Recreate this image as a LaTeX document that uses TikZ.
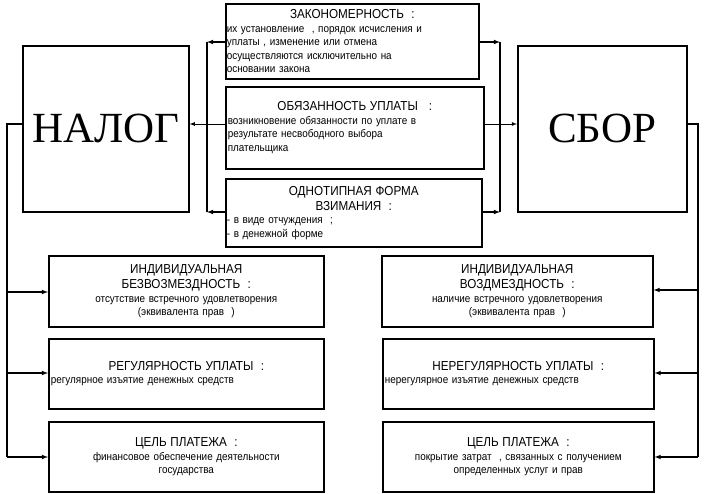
\documentclass[tikz,border=0pt]{standalone}
\usepackage{fontspec}
\setmainfont{Liberation Sans}
\newfontfamily\bigserif{Liberation Serif}
\newfontfamily\narrow[FakeStretch=0.9]{Liberation Sans}
\usetikzlibrary{arrows, positioning}

\newcommand{\hd}[1]{{\centering\fontsize{13}{15}\selectfont #1\par}}
\tikzset{
    box/.style={draw, line width=1.6pt, anchor=north west, inner sep=2pt, align=left,
        font=\narrow\fontsize{11}{13.5}\selectfont},
    big/.style={draw, line width=1.6pt, anchor=north west, font=\bigserif\fontsize{43}{43}\selectfont},
    link/.style={line width=1.1pt},
    arr/.style={->, >=latex, line width=1.1pt}
}

\begin{document}
\begin{tikzpicture}[x=1pt, y=-1pt]
    \useasboundingbox (0,0) rectangle (706,494);

    \node[big, minimum width=166pt, minimum height=166pt] at (22,45) (nalog) {НАЛОГ};
    \node[big, minimum width=169pt, minimum height=166pt] at (517,45) (sbor) {СБОР};

    \node[box, text width=251pt, minimum height=75pt, inner sep=1pt] at (225,3) (zak) {\hd{ЗАКОНОМЕРНОСТЬ \ :}
        их установление \ , порядок исчисления и\\ уплаты , изменение или отмена\\ осуществляются исключительно на\\ основании закона};
    \node[box, text width=254pt, minimum height=82pt] at (225,86) (obyaz) {\hd{ОБЯЗАННОСТЬ УПЛАТЫ \ \ :}
        возникновение обязанности по уплате в\\ результате несвободного выбора\\ плательщика\\[6pt]};
    \node[box, text width=254pt, minimum height=68pt, inner sep=1pt] at (225,178) (odno) {\hd{ОДНОТИПНАЯ ФОРМА\\ ВЗИМАНИЯ \ :}
        - в виде отчуждения \ ;\\ - в денежной форме};

    \node[box, text width=271pt, minimum height=71pt, align=center] at (48,255) (bez) {\hd{ИНДИВИДУАЛЬНАЯ\\ БЕЗВОЗМЕЗДНОСТЬ \ :}
        отсутствие встречного удовлетворения\\ (эквивалента прав \ )};
    \node[box, text width=271pt, minimum height=70pt] at (48,338) (reg) {\hd{РЕГУЛЯРНОСТЬ УПЛАТЫ \ :}
        регулярное изъятие денежных средств\\[12pt]};
    \node[box, text width=271pt, minimum height=70pt, align=center] at (48,421) (celn) {\hd{ЦЕЛЬ ПЛАТЕЖА \ :}
        финансовое обеспечение деятельности\\ государства};

    \node[box, text width=267pt, minimum height=71pt, align=center] at (381,255) (voz) {\hd{ИНДИВИДУАЛЬНАЯ\\ ВОЗДМЕЗДНОСТЬ \ :}
        наличие встречного удовлетворения\\ (эквивалента прав \ )};
    \node[box, text width=267pt, minimum height=70pt] at (382,338) (nereg) {\hd{НЕРЕГУЛЯРНОСТЬ УПЛАТЫ \ :}
        нерегулярное изъятие денежных средств\\[12pt]};
    \node[box, text width=267pt, minimum height=70pt, align=center] at (382,421) (cels) {\hd{ЦЕЛЬ ПЛАТЕЖА \ :}
        покрытие затрат \ , связанных с получением\\ определенных услуг и прав};

    % brackets between the middle boxes and the two big boxes
    \coordinate (lt) at (207,42);
    \coordinate (lb) at (207,212);
    \coordinate (rt) at (500,42);
    \coordinate (rb) at (500,212);
    \draw[link] (lt) -- (lb);
    \draw[arr] (zak.west |- lt) -- (lt);
    \draw[arr] (odno.west |- lb) -- (lb);
    \draw[arr, line width=0.8pt] (obyaz.west |- 0,124) -- (nalog.east |- 0,124);
    \draw[link] (rt) -- (rb);
    \draw[arr] (zak.east |- rt) -- (rt);
    \draw[arr] (odno.east |- rb) -- (rb);
    \draw[arr, line width=0.8pt] (obyaz.east |- 0,124) -- (sbor.west |- 0,124);

    % left side
    \coordinate (ll) at (7,124);
    \draw[link] (nalog.west |- ll) -- (ll) -- (7,457);
    \foreach \b/\y in {bez/292, reg/373, celn/457} {
        \draw[arr] (7,\y) -- (\b.west |- 0,\y);
    }
    % right side
    \coordinate (rr) at (698,124);
    \draw[link] (sbor.east |- rr) -- (rr) -- (698,457);
    \foreach \b/\y in {voz/290, nereg/373, cels/457} {
        \draw[arr] (698,\y) -- (\b.east |- 0,\y);
    }
\end{tikzpicture}
\end{document}
